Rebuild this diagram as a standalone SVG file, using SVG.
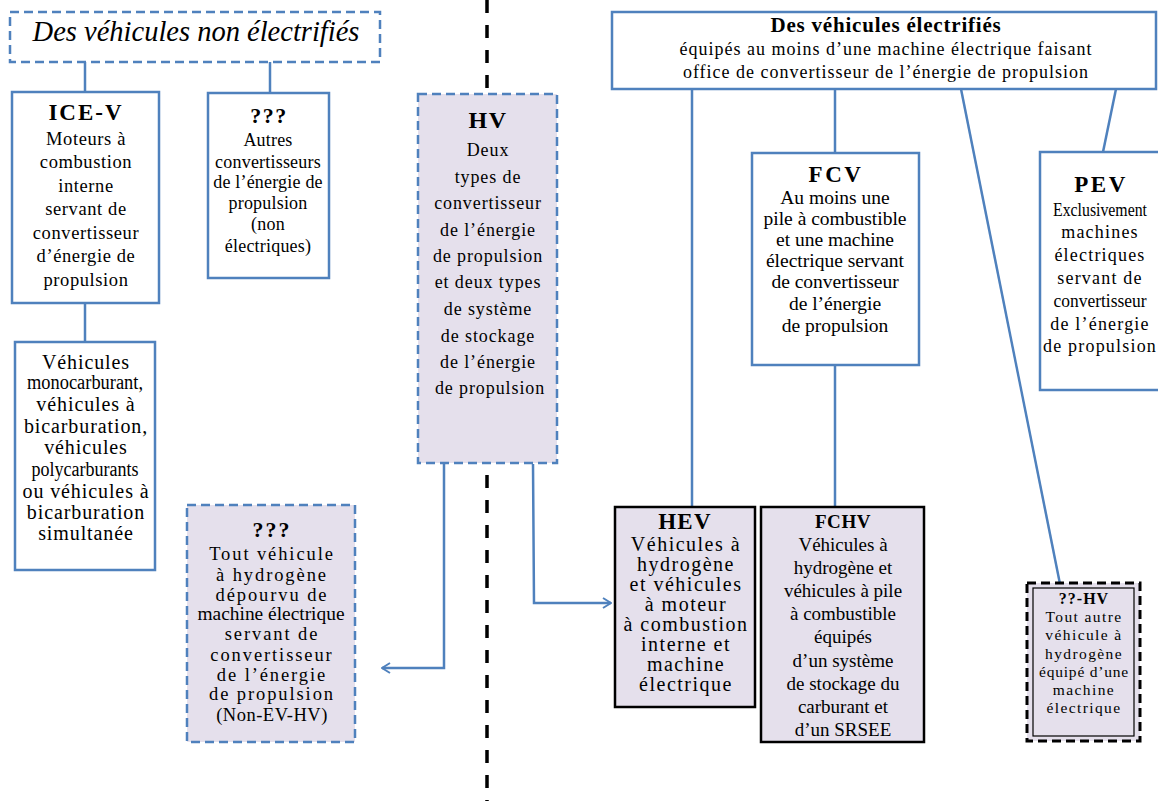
<svg xmlns="http://www.w3.org/2000/svg" width="1158" height="801" viewBox="0 0 1158 801">
<defs>
<marker id="arr" viewBox="0 0 10 12" refX="9" refY="6" markerWidth="10" markerHeight="12" markerUnits="userSpaceOnUse" orient="auto">
<path d="M1,1 L9,6 L1,11" fill="none" stroke="#4F81BD" stroke-width="2"/>
</marker>
<style>
text{font-family:"Liberation Serif","Times New Roman",serif;fill:#000;text-anchor:middle}
.b{font-weight:bold}
.blue{fill:#fff;stroke:#4F81BD;stroke-width:2.5}
.bluedash{stroke:#4F81BD;stroke-width:2.5;stroke-dasharray:9 5}
.lav{fill:#E5E0EC}
.blk{fill:#E5E0EC;stroke:#000;stroke-width:2.5}
.conn{fill:none;stroke:#4F81BD;stroke-width:2.5}
.ice{font-size:18.5px;letter-spacing:0.6px}
.q1{font-size:18px;letter-spacing:0.2px}
.veh{font-size:20px;letter-spacing:0.9px}
.q2{font-size:18.5px;letter-spacing:1.9px}
.hv{font-size:18px;letter-spacing:0.9px}
.sub{font-size:18px;letter-spacing:1px}
.fcv{font-size:19.5px}
.pev{font-size:18px;letter-spacing:1.2px}
.hev{font-size:20px;letter-spacing:1.5px}
.fchv{font-size:19px}
.qhv{font-size:15.5px;letter-spacing:1.4px}
</style>
</defs>

<!-- divider -->
<line x1="487" y1="0" x2="487" y2="801" stroke="#000" stroke-width="3.5" stroke-dasharray="13 12"/>

<g id="connectors">
<line class="conn" x1="85" y1="62" x2="85" y2="92"/>
<line class="conn" x1="270" y1="62" x2="270" y2="93"/>
<line class="conn" x1="85" y1="303" x2="85" y2="342"/>
<polyline class="conn" points="444,464 444,668 382,668" marker-end="url(#arr)"/>
<polyline class="conn" points="533,464 534,603 611,603" marker-end="url(#arr)"/>
<line class="conn" x1="692" y1="89" x2="692" y2="507"/>
<line class="conn" x1="835" y1="89" x2="835" y2="153"/>
<line class="conn" x1="835" y1="366" x2="835" y2="507"/>
<line class="conn" x1="961" y1="89" x2="1060" y2="584"/>
<line class="conn" x1="1116" y1="89" x2="1103" y2="152"/>
</g>

<g id="title-non-elec">
<rect x="10" y="12" width="370" height="50" fill="#fff" class="bluedash"/>
<text x="196" y="41" style="font-size:28.5px;font-style:italic">Des véhicules non électrifiés</text>
</g>

<g id="ice-v">
<rect class="blue" x="12" y="92" width="147" height="211"/>
<text class="b" x="86" y="120" style="font-size:23px;letter-spacing:2px">ICE-V</text>
<text class="ice" x="86" y="145">Moteurs à</text>
<text class="ice" x="86" y="168">combustion</text>
<text class="ice" x="86" y="192">interne</text>
<text class="ice" x="86" y="215">servant de</text>
<text class="ice" x="86" y="239">convertisseur</text>
<text class="ice" x="86" y="262">d’énergie de</text>
<text class="ice" x="86" y="286">propulsion</text>
</g>

<g id="other-conv">
<rect class="blue" x="208" y="93" width="121" height="185"/>
<text class="b" x="269" y="123" style="font-size:22px;letter-spacing:1.5px">???</text>
<text class="q1" x="268" y="146">Autres</text>
<text class="q1" x="268" y="168">convertisseurs</text>
<text class="q1" x="268" y="188">de l’énergie de</text>
<text class="q1" x="268" y="209">propulsion</text>
<text class="q1" x="268" y="230">(non</text>
<text class="q1" x="268" y="252">électriques)</text>
</g>

<g id="vehicules">
<rect class="blue" x="15" y="342" width="140" height="228"/>
<text class="veh" x="86" y="369">Véhicules</text>
<text class="veh" x="85" y="389" style="letter-spacing:0px" textLength="116" lengthAdjust="spacingAndGlyphs">monocarburant,</text>
<text class="veh" x="86" y="411">véhicules à</text>
<text class="veh" x="86" y="433">bicarburation,</text>
<text class="veh" x="86" y="454">véhicules</text>
<text class="veh" x="85" y="476" style="letter-spacing:0px" textLength="107" lengthAdjust="spacingAndGlyphs">polycarburants</text>
<text class="veh" x="86" y="498">ou véhicules à</text>
<text class="veh" x="86" y="519">bicarburation</text>
<text class="veh" x="86" y="540">simultanée</text>
</g>

<g id="non-ev-hv">
<rect x="187" y="505" width="168" height="237" class="lav bluedash"/>
<text class="b" x="272" y="537" style="font-size:22px;letter-spacing:2px">???</text>
<text class="q2" x="272" y="560">Tout véhicule</text>
<text class="q2" x="272" y="581">à hydrogène</text>
<text class="q2" x="272" y="601">dépourvu de</text>
<text class="q2" x="271" y="620" style="letter-spacing:0px" textLength="147" lengthAdjust="spacingAndGlyphs">machine électrique</text>
<text class="q2" x="272" y="640">servant de</text>
<text class="q2" x="272" y="661">convertisseur</text>
<text class="q2" x="272" y="681">de l’énergie</text>
<text class="q2" x="272" y="700">de propulsion</text>
<text class="q2" x="272" y="721" style="letter-spacing:0.5px">(Non-EV-HV)</text>
</g>

<g id="hv">
<rect x="418" y="94" width="139" height="369" class="lav bluedash"/>
<text class="b" x="488" y="128" style="font-size:24px;letter-spacing:1.5px">HV</text>
<text class="hv" x="488" y="156">Deux</text>
<text class="hv" x="488" y="183">types de</text>
<text class="hv" x="488" y="209">convertisseur</text>
<text class="hv" x="488" y="236">de l’énergie</text>
<text class="hv" x="488" y="262">de propulsion</text>
<text class="hv" x="488" y="288">et deux types</text>
<text class="hv" x="488" y="315">de système</text>
<text class="hv" x="488" y="342">de stockage</text>
<text class="hv" x="488" y="368">de l’énergie</text>
<text class="hv" x="490" y="394">de propulsion</text>
</g>

<g id="title-elec">
<rect class="blue" x="612" y="12" width="544" height="77"/>
<text class="b" x="886" y="32" style="font-size:21px;letter-spacing:0.8px">Des véhicules électrifiés</text>
<text class="sub" x="886" y="55">équipés au moins d’une machine électrique faisant</text>
<text class="sub" x="886" y="78">office de convertisseur de l’énergie de propulsion</text>
</g>

<g id="fcv">
<rect class="blue" x="752" y="153" width="167" height="212"/>
<text class="b" x="836" y="182" style="font-size:23px;letter-spacing:2.5px">FCV</text>
<text class="fcv" x="835" y="204">Au moins une</text>
<text class="fcv" x="835" y="225">pile à combustible</text>
<text class="fcv" x="835" y="246">et une machine</text>
<text class="fcv" x="835" y="267">électrique servant</text>
<text class="fcv" x="835" y="288">de convertisseur</text>
<text class="fcv" x="835" y="310">de l’énergie</text>
<text class="fcv" x="835" y="332">de propulsion</text>
</g>

<g id="pev">
<rect class="blue" x="1040" y="152" width="124" height="238"/>
<text class="b" x="1101" y="192" style="font-size:23px;letter-spacing:2.5px">PEV</text>
<text class="pev" x="1100" y="216" style="letter-spacing:0px" textLength="94" lengthAdjust="spacingAndGlyphs">Exclusivement</text>
<text class="pev" x="1100" y="238">machines</text>
<text class="pev" x="1100" y="261">électriques</text>
<text class="pev" x="1100" y="284">servant de</text>
<text class="pev" x="1100" y="307" style="letter-spacing:0px" textLength="93" lengthAdjust="spacingAndGlyphs">convertisseur</text>
<text class="pev" x="1100" y="330">de l’énergie</text>
<text class="pev" x="1100" y="352">de propulsion</text>
</g>

<g id="hev">
<rect class="blk" x="615" y="507" width="140" height="200"/>
<text class="b" x="685" y="529" style="font-size:23px;letter-spacing:1.2px">HEV</text>
<text class="hev" x="686" y="551">Véhicules à</text>
<text class="hev" x="686" y="571">hydrogène</text>
<text class="hev" x="686" y="591">et véhicules</text>
<text class="hev" x="686" y="611">à moteur</text>
<text class="hev" x="686" y="631">à combustion</text>
<text class="hev" x="686" y="651">interne et</text>
<text class="hev" x="686" y="671">machine</text>
<text class="hev" x="686" y="691">électrique</text>
</g>

<g id="fchv">
<rect class="blk" x="761" y="507" width="163" height="235"/>
<text class="b" x="843" y="528" style="font-size:19px;letter-spacing:0.6px">FCHV</text>
<text class="fchv" x="843" y="551">Véhicules à</text>
<text class="fchv" x="843" y="574">hydrogène et</text>
<text class="fchv" x="843" y="597">véhicules à pile</text>
<text class="fchv" x="843" y="620">à combustible</text>
<text class="fchv" x="843" y="643">équipés</text>
<text class="fchv" x="843" y="667">d’un système</text>
<text class="fchv" x="843" y="690">de stockage du</text>
<text class="fchv" x="843" y="713">carburant et</text>
<text class="fchv" x="843" y="736">d’un SRSEE</text>
</g>

<g id="other-hv">
<rect x="1027" y="583" width="113" height="158" fill="#E5E0EC" stroke="#000" stroke-width="3" stroke-dasharray="9 5"/>
<rect x="1033" y="588" width="101" height="148" fill="none" stroke="#000" stroke-width="1.2"/>
<text class="b" x="1084" y="604" style="font-size:16px;letter-spacing:1px">??-HV</text>
<text class="qhv" x="1084" y="622">Tout autre</text>
<text class="qhv" x="1084" y="640">véhicule à</text>
<text class="qhv" x="1084" y="659">hydrogène</text>
<text class="qhv" x="1084" y="677" style="letter-spacing:0.8px">équipé d’une</text>
<text class="qhv" x="1084" y="695">machine</text>
<text class="qhv" x="1084" y="713">électrique</text>
</g>
</svg>
